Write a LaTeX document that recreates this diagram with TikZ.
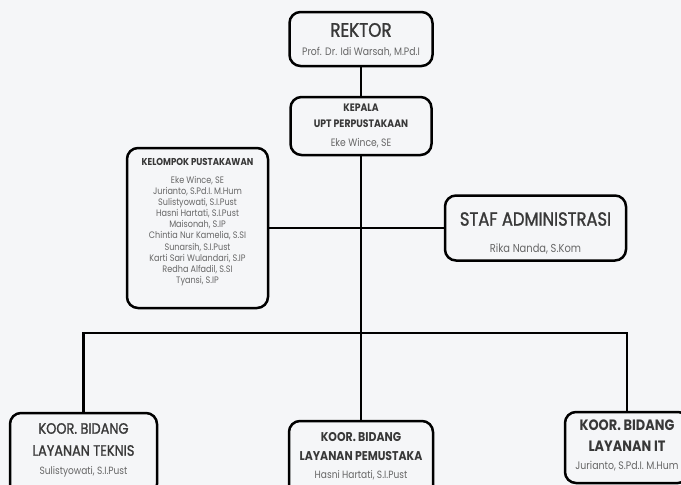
\documentclass[tikz,border=0pt]{standalone}
\usepackage{fontspec}
\setmainfont[FakeStretch=0.86]{Poppins}
\newfontfamily\medfont[FakeStretch=0.86,FakeBold=1.3]{Poppins}
\usepackage{tikz}
\usetikzlibrary{positioning}
\definecolor{bgcol}{HTML}{F5F6F8}
\definecolor{headcol}{HTML}{383838}
\definecolor{namecol}{HTML}{666666}

\begin{document}
\begin{tikzpicture}[x=1pt, y=-1pt,
  box/.style={draw=black, line width=2.5pt, rounded corners=11pt, fill=bgcol, inner sep=0pt},
  headtxt/.style={text=headcol, inner sep=0pt, align=center},
  nametxt/.style={text=namecol, inner sep=0pt, align=center},
  link/.style={draw=black, line width=2.5pt},
]
\useasboundingbox (0,0) rectangle (681,485);
\clip (0,0) rectangle (681,485);
\fill[bgcol] (0,0) rectangle (681,485);

\node[box, minimum width=143pt, minimum height=54pt] (rektor) at (361,39) {};
\node[box, minimum width=141pt, minimum height=58pt] (kepala) at (361,126) {};
\node[box, minimum width=141pt, minimum height=160pt] (kelompok) at (197.5,228) {};
\node[box, minimum width=181pt, minimum height=65pt] (staf) at (535.5,228) {};
\node[box, minimum width=147pt, minimum height=82pt] (teknis) at (83.5,454) {};
\node[box, minimum width=144pt, minimum height=79pt] (pemustaka) at (361,460.5) {};
\node[box, minimum width=124pt, minimum height=71pt] (it) at (627,447.5) {};
\coordinate (bus) at (361,333);

\draw[link] (rektor.south) -- (kepala.north);
\draw[link] (kepala.south) -- (bus);
\draw[link] (kelompok.east) -- (staf.west);
\draw[link] (teknis.north) |- (bus) -| (it.north);
\draw[link] (bus) -- (pemustaka.north);

\node[headtxt, font=\medfont\fontsize{19.5}{20}\selectfont] (rektortitle) at (361,30) {REKTOR};
\node[nametxt, font=\fontsize{10.8}{12}\selectfont] (rektorname) at (361,52) {Prof. Dr. Idi Warsah, M.Pd.I};

\node[headtxt, font=\bfseries\fontsize{10.8}{16}\selectfont] (kepalatitle) at (361,116) {KEPALA\\UPT PERPUSTAKAAN};
\node[nametxt, font=\fontsize{10.7}{12}\selectfont] (kepalaname) at (361,143) {Eke Wince, SE};

\node[headtxt, font=\bfseries\fontsize{10}{10}\selectfont] (kelompoktitle) at (197.5,162) {KELOMPOK PUSTAKAWAN};
\node[nametxt, font=\fontsize{9.4}{11.1}\selectfont] (kelompoknames) at (197.5,231) {Eke Wince, SE\\Jurianto, S.Pd.I. M.Hum\\Sulistyowati, S.I.Pust\\Hasni Hartati, S.I.Pust\\Maisonah, S.IP\\Chintia Nur Kamelia, S.SI\\Sunarsih, S.I.Pust\\Karti Sari Wulandari, S.IP\\Redha Alfadil, S.SI\\Tyansi, S.IP};

\node[headtxt, font=\medfont\fontsize{19}{20}\selectfont] (staftitle) at (535.5,219) {STAF ADMINISTRASI};
\node[nametxt, font=\fontsize{11.5}{12}\selectfont] (stafname) at (535.5,249) {Rika Nanda, S.Kom};

\node[headtxt, font=\medfont\fontsize{15}{22}\selectfont] (teknistitle) at (83.5,439.5) {KOOR. BIDANG\\LAYANAN TEKNIS};
\node[nametxt, font=\fontsize{10.5}{12}\selectfont] (teknisname) at (83.5,472) {Sulistyowati, S.I.Pust};

\node[headtxt, font=\bfseries\fontsize{12.7}{19}\selectfont] (pemustakatitle) at (361,446.5) {KOOR. BIDANG\\LAYANAN PEMUSTAKA};
\node[nametxt, font=\fontsize{10.5}{12}\selectfont] (pemustakaname) at (361,475) {Hasni Hartati, S.I.Pust};

\node[headtxt, font=\bfseries\fontsize{15}{21}\selectfont] (ittitle) at (627,435.5) {KOOR. BIDANG\\LAYANAN IT};
\node[nametxt, font=\fontsize{10.9}{12}\selectfont] (itname) at (627,466) {Jurianto, S.Pd.I. M.Hum};
\end{tikzpicture}
\end{document}
